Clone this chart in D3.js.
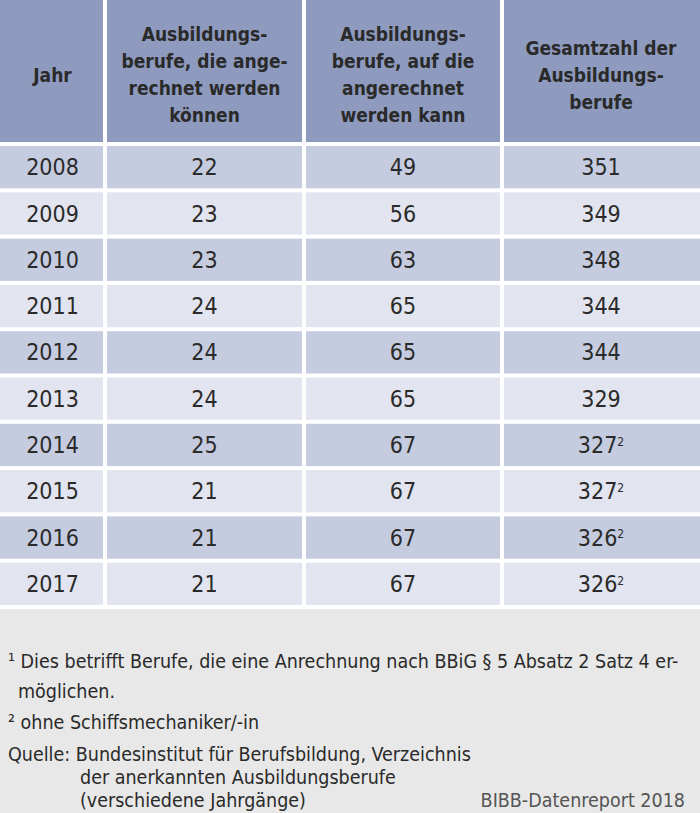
<!DOCTYPE html>
<html><head><meta charset="utf-8">
<script src="https://cdn.jsdelivr.net/npm/d3@7"></script>
<style>body{margin:0;background:#fff}text{font-family:"Liberation Sans Narrow","DejaVu Sans Condensed","Roboto Condensed",sans-serif;fill:#2a2a2a}</style>
</head><body><svg id="c" width="700" height="813"></svg>
<script>
const years=["2008","2009","2010","2011","2012","2013","2014","2015","2016","2017"];
const col1=[22,23,23,24,24,24,25,21,21,21];
const col2=[49,56,63,65,65,65,67,67,67,67];
const col3=[351,349,348,344,344,329,327,327,326,326];
const col3Note=["","","","","","","2","2","2","2"];
const headers=[["Jahr"],["Ausbildungs-","berufe, die ange-","rechnet werden","können"],["Ausbildungs-","berufe, auf die","angerechnet","werden kann"],["Gesamtzahl der","Ausbildungs-","berufe"]];
const notes=[["¹ Dies betrifft Berufe, die eine Anrechnung nach BBiG § 5 Absatz 2 Satz 4 er-",8],["möglichen.",18],["² ohne Schiffsmechaniker/-in",8],["Quelle: Bundesinstitut für Berufsbildung, Verzeichnis",8],["der anerkannten Ausbildungsberufe",80],["(verschiedene Jahrgänge)",80]];

const svg=d3.select("#c");
const edges=[0,105,304,502,700];
const x=i=>edges[i], w=i=>edges[i+1]-edges[i];
const gap=4;
const headerH=142;
const y=d3.scaleBand().domain(years).range([144,607]);
svg.append("rect").attr("width",700).attr("height",813).attr("fill","#fff");
headers.forEach((h,i)=>{
  svg.append("rect").attr("x",x(i)+(i?gap/2:0)).attr("y",0).attr("width",w(i)-(i?gap/2:0)-(i<3?gap/2:0)).attr("height",headerH).attr("fill","#8e9bbf");
  const lh=27, cy=headerH/2+4, start=cy-(h.length-1)*lh/2;
  h.forEach((t,k)=>svg.append("text").attr("x",x(i)+w(i)/2).attr("y",start+k*lh).attr("dy","0.35em").attr("text-anchor","middle").attr("font-size",19).attr("font-weight","bold").text(t));
});
years.forEach((yr,r)=>{
  const vals=[yr,col1[r],col2[r],col3[r]];
  vals.forEach((v,i)=>{
    svg.append("rect").attr("x",x(i)+(i?gap/2:0)).attr("y",y(yr)+gap/2).attr("width",w(i)-(i?gap/2:0)-(i<3?gap/2:0)).attr("height",y.bandwidth()-gap).attr("fill",r%2?"#e2e5ef":"#c6cce0");
    const t=svg.append("text").attr("x",x(i)+w(i)/2).attr("y",y(yr)+y.bandwidth()/2).attr("dy","0.35em").attr("text-anchor","middle").attr("font-size",23).text(v);
    if(i===3&&col3Note[r]) t.append("tspan").attr("font-size",12).attr("dy","-0.6em").text(col3Note[r]);
  });
});
svg.append("rect").attr("x",0).attr("y",609).attr("width",700).attr("height",204).attr("fill","#e8e8e8");
const ny=[661,691,722,754,777,800];
notes.forEach((n,k)=>svg.append("text").attr("x",n[1]).attr("y",ny[k]).attr("dy","0.35em").attr("font-size",19.5).text(n[0]));
svg.append("text").attr("x",685).attr("y",800).attr("dy","0.35em").attr("text-anchor","end").attr("font-size",19.5).style("fill","#555").text("BIBB-Datenreport 2018");
</script></body></html>
